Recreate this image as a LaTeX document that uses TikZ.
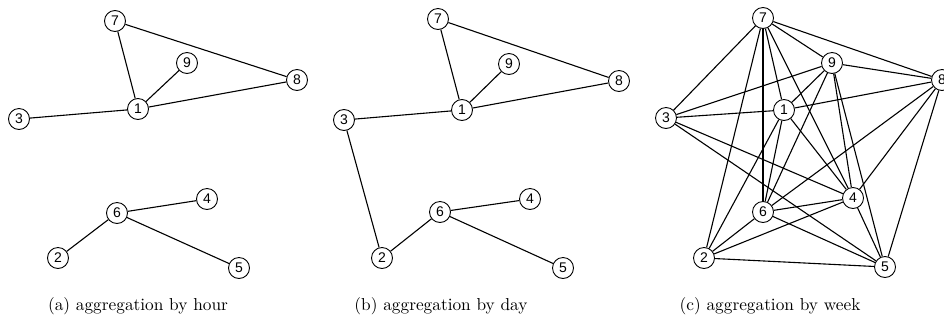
\documentclass[tikz,border=0pt]{standalone}
\usepackage{fontspec}
\newfontfamily\nodefont{Liberation Sans}
\newfontfamily\capfont{lmroman10-regular.otf}
\begin{document}
\begin{tikzpicture}[x=1pt,y=-1pt,
  vtx/.style={circle,draw,line width=0.9pt,minimum size=21pt,inner sep=0pt,fill=white,font=\nodefont\fontsize{14}{14}\selectfont},
  edge/.style={line width=1.1pt},
  captext/.style={font=\capfont\fontsize{17.3}{20}\selectfont,inner sep=0pt}]
\useasboundingbox (0,0) rectangle (944,325);
% panel (a)
\node[vtx] (a7) at (115,21) {7};
\node[vtx] (a9) at (187,63) {9};
\node[vtx] (a8) at (297,80) {8};
\node[vtx] (a1) at (138,109) {1};
\node[vtx] (a3) at (19,119) {3};
\node[vtx] (a4) at (207,199) {4};
\node[vtx] (a6) at (117,213) {6};
\node[vtx] (a2) at (58,258) {2};
\node[vtx] (a5) at (239,268) {5};
\foreach \u/\v in {7/8,7/1,9/1,1/8,3/1,6/4,6/2,6/5}
  \draw[edge] (a\u) -- (a\v);
% panel (b)
\node[vtx] (b7) at (438,19) {7};
\node[vtx] (b9) at (509,64) {9};
\node[vtx] (b8) at (619,81) {8};
\node[vtx] (b1) at (462,110) {1};
\node[vtx] (b3) at (344,120) {3};
\node[vtx] (b4) at (530,199) {4};
\node[vtx] (b6) at (440,212) {6};
\node[vtx] (b2) at (382,258) {2};
\node[vtx] (b5) at (563,268) {5};
\foreach \u/\v in {7/8,7/1,9/1,1/8,3/1,3/2,6/4,6/2,6/5}
  \draw[edge] (b\u) -- (b\v);
% panel (c)
\node[vtx] (c7) at (763,18) {7};
\node[vtx] (c9) at (832,63) {9};
\node[vtx] (c8) at (942,80) {8};
\node[vtx] (c1) at (784,110) {1};
\node[vtx] (c3) at (666,118) {3};
\node[vtx] (c4) at (853,198) {4};
\node[vtx] (c6) at (763,212) {6};
\node[vtx] (c2) at (704,258) {2};
\node[vtx] (c5) at (885,267) {5};
\foreach \u/\v in {3/7,3/9,3/1,3/4,3/5,
                   7/2,7/6,7/1,7/9,7/8,7/4,
                   9/8,9/1,9/6,9/4,9/5,
                   1/8,1/6,1/2,1/4,
                   8/6,8/4,8/5,
                   4/6,4/2,4/5,
                   6/2,6/5,2/5}
  \draw[edge] (c\u) -- (c\v);
% captions
\node[captext] (capa) at (138,306) {(a) aggregation by hour};
\node[captext] (capb) at (441,306) {(b) aggregation by day};
\node[captext] (capc) at (770,306) {(c) aggregation by week};
\end{tikzpicture}
\end{document}
